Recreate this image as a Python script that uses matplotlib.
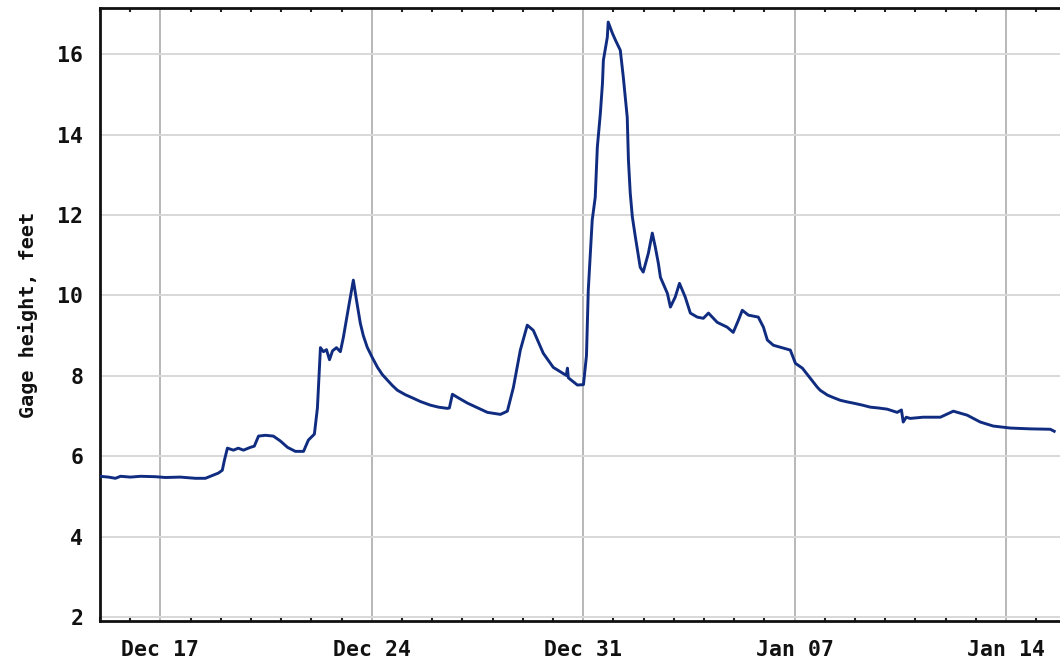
import matplotlib
matplotlib.use('Agg')
import matplotlib.pyplot as plt
import matplotlib.dates as mdates
import pandas as pd

# gage readings: days after Dec 17 and stage in feet
start = pd.Timestamp('2022-12-17')
days = [-2.00, -1.72, -1.49, -1.32, -0.99, -0.66, -0.17, 0.17, 0.66, 1.16,
        1.49, 1.72, 1.92, 2.05, 2.12, 2.22, 2.42, 2.58, 2.75, 2.98,
        3.11, 3.25, 3.48, 3.74, 3.97, 4.21, 4.47, 4.74, 4.90, 5.10,
        5.20, 5.30, 5.40, 5.50, 5.60, 5.70, 5.83, 5.96, 6.06, 6.23,
        6.39, 6.49, 6.62, 6.72, 6.85, 7.02, 7.19, 7.35, 7.52, 7.68,
        7.85, 8.11, 8.38, 8.61, 8.94, 9.21, 9.50,
        9.57, 9.67, 9.87, 10.17, 10.83, 11.26, 11.49, 11.69, 11.92, 12.15,
        12.35, 12.68, 13.01, 13.44, 13.48, 13.51, 13.81, 14.01, 14.11, 14.17,
        14.30, 14.40, 14.47, 14.57, 14.64, 14.67, 14.80, 14.83, 14.97, 15.07,
        15.23, 15.33, 15.46, 15.50, 15.56, 15.63, 15.73, 15.89, 15.99, 16.16,
        16.29, 16.39, 16.49, 16.56, 16.79, 16.89, 17.05, 17.19, 17.38, 17.55,
        17.78, 17.98, 18.15, 18.44, 18.77, 18.97, 19.14, 19.27, 19.47, 19.80,
        19.97, 20.10, 20.30, 20.63, 20.86, 21.03, 21.26, 21.52, 21.62, 21.75,
        21.85, 22.09, 22.28, 22.52, 22.75, 22.95, 23.25, 23.51, 23.77, 24.07,
        24.40, 24.54, 24.60, 24.70, 24.83,
        25.26, 25.83, 26.26, 26.72, 27.15, 27.58, 27.91, 28.15, 28.81, 29.47,
        29.60]
stage = [5.50, 5.48, 5.45, 5.50, 5.48, 5.50, 5.49, 5.47, 5.48, 5.45,
         5.45, 5.52, 5.58, 5.65, 5.90, 6.20, 6.15, 6.20, 6.15, 6.22,
         6.25, 6.50, 6.52, 6.50, 6.38, 6.22, 6.12, 6.12, 6.40, 6.55,
         7.20, 8.70, 8.60, 8.65, 8.40, 8.62, 8.70, 8.60, 8.96, 9.70,
         10.38, 9.90, 9.31, 9.00, 8.71, 8.45, 8.21, 8.03, 7.89, 7.76,
         7.64, 7.53, 7.44, 7.36, 7.27, 7.22, 7.19,
         7.20, 7.54, 7.45, 7.32, 7.09, 7.04, 7.12, 7.71, 8.64, 9.26,
         9.13, 8.56, 8.21, 8.01, 8.19, 7.95, 7.77, 7.78, 8.50, 10.13,
         11.87, 12.44, 13.69, 14.53, 15.28, 15.85, 16.42, 16.80, 16.52, 16.35,
         16.10, 15.43, 14.43, 13.36, 12.54, 11.95, 11.45, 10.70, 10.58, 11.05,
         11.55, 11.20, 10.80, 10.45, 10.05, 9.71, 9.96, 10.30, 9.96, 9.56,
         9.46, 9.43, 9.56, 9.33, 9.21, 9.08, 9.38, 9.63, 9.51, 9.46,
         9.21, 8.89, 8.76, 8.69, 8.64, 8.31, 8.19, 7.94, 7.84, 7.72,
         7.64, 7.52, 7.46, 7.39, 7.35, 7.32, 7.27, 7.22, 7.20, 7.17,
         7.09, 7.15, 6.85, 6.97, 6.94,
         6.97, 6.97, 7.12, 7.02, 6.85, 6.75, 6.72, 6.70, 6.68, 6.67,
         6.62]
y_ticks = [2, 4, 6, 8, 10, 12, 14, 16]

times = start + pd.to_timedelta(days, unit='D')

fig = plt.figure(figsize=(10.6, 6.64), dpi=100)
ax = fig.add_axes([100 / 1060, 1 - 621 / 664, 960 / 1060, 613 / 664])

ax.plot(times, stage, color='#102c80', lw=2.1, zorder=3)

ax.set_xlim(pd.Timestamp('2022-12-15 00:00'), pd.Timestamp('2023-01-15 19:00'))
ax.set_ylim(1.9, 17.15)

ax.xaxis.set_major_locator(mdates.WeekdayLocator(byweekday=mdates.SA))
ax.xaxis.set_major_formatter(mdates.DateFormatter('%b %d'))
ax.xaxis.set_minor_locator(mdates.DayLocator())
ax.set_yticks(y_ticks)

ax.grid(axis='x', which='major', color='#b8b8b8', lw=1.4)
ax.grid(axis='y', which='major', color='#d8d8d8', lw=1.4)
ax.set_axisbelow(True)

for s in ['left', 'bottom', 'top']:
    ax.spines[s].set_linewidth(2)
    ax.spines[s].set_color('#111111')
ax.spines['right'].set_visible(False)

mono = 'DejaVu Sans Mono'
ax.tick_params(axis='y', length=0, pad=12)
ax.tick_params(axis='x', which='major', length=0, pad=14)
ax.tick_params(axis='x', which='minor', direction='in', length=3, width=1.5,
               top=True, bottom=True, color='#222222')
for lab in ax.get_xticklabels() + ax.get_yticklabels():
    lab.set_fontfamily(mono)
    lab.set_fontweight('bold')
    lab.set_fontsize(15.5)
    lab.set_color('#111111')

ax.set_ylabel('Gage height, feet', fontfamily=mono, fontweight='bold',
              fontsize=14.5, color='#111111', labelpad=14)

fig.savefig('out.png', dpi=100, facecolor='white')
